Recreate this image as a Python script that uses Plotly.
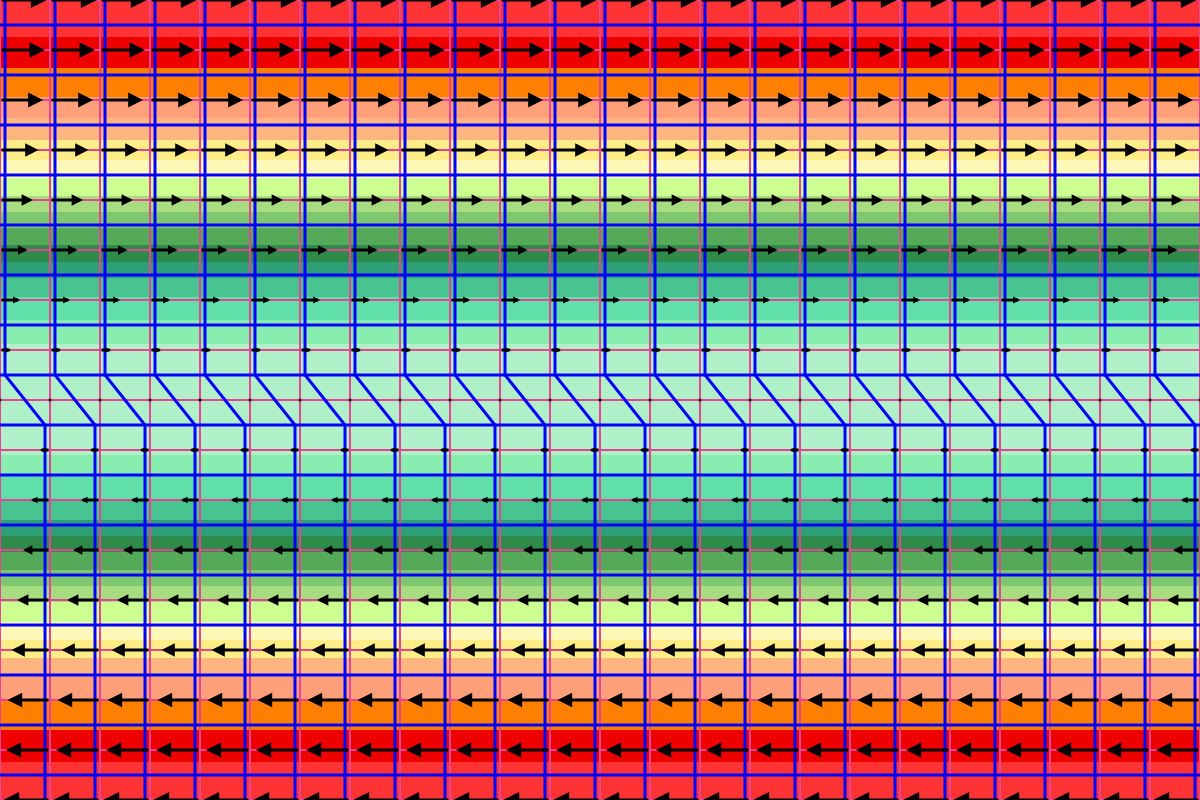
import plotly.graph_objects as go

# ---- data (grid units: x 0..24, y -8..8) ----
x_nodes = list(range(0, 25))
y_nodes = list(range(-8, 9))
# horizontal velocity per row (y = -8 .. 8)
u_rows = [-0.94, -0.88, -0.85, -0.77, -0.66, -0.54, -0.38, -0.20, 0.0,
          0.22, 0.40, 0.55, 0.66, 0.77, 0.86, 0.90, 0.94]

# filled-contour band edges (bottom -> top) and level index of each band
band_edges = [-8.0, -7.24, -6.6, -6.0, -5.54, -5.16, -4.8, -4.44, -4.04, -3.72,
              -3.4, -3.04, -2.72, -2.4, -2.0, -1.52, -1.1,
              1.12, 1.6, 2.06, 2.44, 2.76, 3.1, 3.44, 3.76, 4.08, 4.44,
              4.8, 5.2, 5.64, 6.06, 6.64, 7.26, 8.0]
band_levels = [16, 15, 14, 13, 12, 11, 10, 9, 8, 7, 6, 5, 4, 3, 2, 1,
               0,
               1, 2, 3, 4, 5, 6, 7, 8, 9, 10, 11, 12, 13, 14, 15, 16]
level_colors = ["#B0F0C8", "#88EEB0", "#60E0A8", "#48C490", "#2DA078",
                "#2E8B4A", "#55AA5A", "#80C870", "#A8DC80", "#CCFF90",
                "#FFF8B8", "#FFEE88", "#FFB580", "#FFA07A", "#FF8000",
                "#EE0000", "#FF3333"]

# material (blue) lines
blue_h_y = [-7.5, -6.5, -5.5, -4.5, -3.5, -2.5, -1.5, -0.5,
            0.5, 1.5, 2.5, 3.5, 4.5, 5.5, 6.5, 7.5]
blue_top_offset = 0.1      # x shift of vertical lines above y=0.5
blue_bottom_offset = 0.9   # x shift of vertical lines below y=-0.5
blue_bend_top = 0.5
blue_bend_bottom = -0.5

PINK = "#E64596"
BLUE = "#0000FF"

fig = go.Figure()

# colour bands
n = len(level_colors)
cs = []
for i, c in enumerate(level_colors):
    cs.append([i / n, c])
    cs.append([(i + 1) / n, c])
fig.add_trace(go.Heatmap(
    x=[x_nodes[0], x_nodes[-1]], y=band_edges,
    z=[[lv] for lv in band_levels],
    zmin=-0.5, zmax=n - 0.5, colorscale=cs, showscale=False,
    hoverinfo="skip"))

# pink grid
gx, gy = [], []
for xv in x_nodes:
    gx += [xv, xv, None]
    gy += [y_nodes[0], y_nodes[-1], None]
for yv in y_nodes:
    gx += [x_nodes[0], x_nodes[-1], None]
    gy += [yv, yv, None]
fig.add_trace(go.Scatter(x=gx, y=gy, mode="lines",
                         line=dict(color=PINK, width=2), hoverinfo="skip"))

# blue deformed grid
bx, by = [], []
for yv in blue_h_y:
    bx += [x_nodes[0], x_nodes[-1], None]
    by += [yv, yv, None]
for xv in x_nodes:
    bx += [xv + blue_top_offset, xv + blue_top_offset,
           xv + blue_bottom_offset, xv + blue_bottom_offset, None]
    by += [y_nodes[-1], blue_bend_top, blue_bend_bottom, y_nodes[0], None]
fig.add_trace(go.Scatter(x=bx, y=by, mode="lines",
                         line=dict(color=BLUE, width=3), hoverinfo="skip"))

# zero-velocity dots
zx, zy = [], []
for yv, u in zip(y_nodes, u_rows):
    if u == 0:
        for xv in x_nodes:
            zx.append(xv)
            zy.append(yv)
fig.add_trace(go.Scatter(x=zx, y=zy, mode="markers",
                         marker=dict(color="black", size=3), hoverinfo="skip"))

# quiver arrows
anns = []
for yv, u in zip(y_nodes, u_rows):
    if u == 0:
        continue
    for xv in x_nodes:
        anns.append(dict(
            x=xv + u, y=yv, ax=xv, ay=yv,
            xref="x", yref="y", axref="x", ayref="y",
            text="", showarrow=True, arrowhead=2,
            arrowwidth=3, arrowsize=max(0.35, 1.15 * abs(u)),
            arrowcolor="black", standoff=0, startstandoff=0))

fig.update_layout(
    width=1200, height=800,
    margin=dict(l=0, r=0, t=0, b=0),
    plot_bgcolor="white", paper_bgcolor="white",
    showlegend=False,
    annotations=anns,
    xaxis=dict(range=[x_nodes[0], x_nodes[-1]], visible=False),
    yaxis=dict(range=[y_nodes[0], y_nodes[-1]], visible=False),
)

fig.write_html("out.html", config={"displayModeBar": False},
               post_script="document.body.style.margin='0';")
